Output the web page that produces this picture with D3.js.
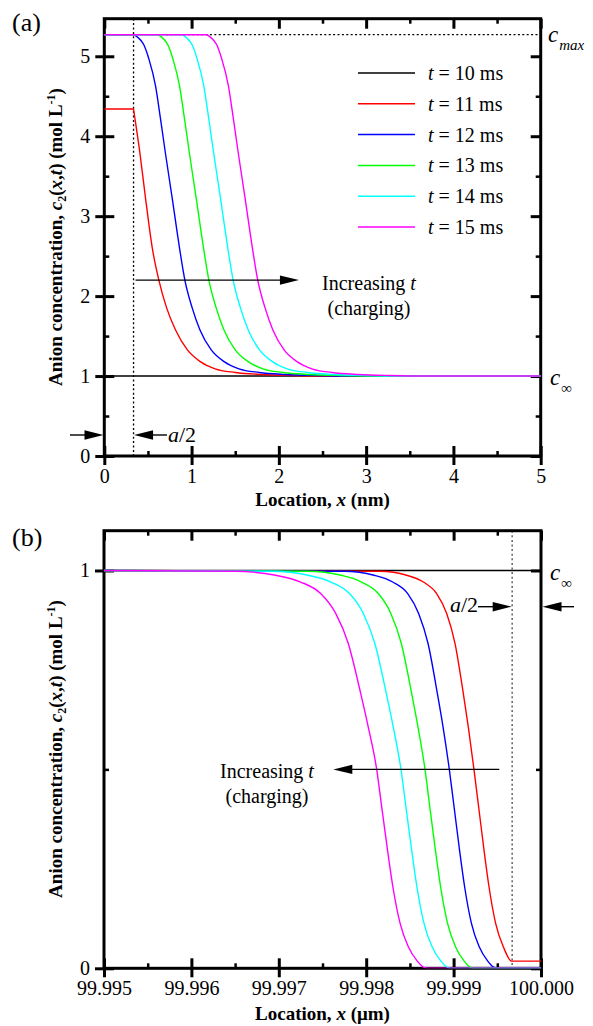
<!DOCTYPE html>
<html>
<head>
<meta charset="utf-8">
<script src="https://cdn.jsdelivr.net/npm/d3@7"></script>
<style>
  body { margin: 0; background: #fff; }
  svg text { font-family: "Liberation Serif", "Tinos", "Times New Roman", serif; fill: #000; }
</style>
</head>
<body>
<svg id="chart" width="593" height="1026"></svg>
<script>
// ---- data ----
const timesMs = [10, 11, 12, 13, 14, 15];
const lineColors = ['#000000', '#ff0000', '#0000ff', '#00ff00', '#00ffff', '#ff00ff'];

const cMax = 5.27;      // mol/L
const cInf = 1;         // mol/L
const aHalfNm = 0.335;  // nm
const aHalfUm = 0.00033;

// panel (a): x in nm
const aT10 = [[0, 1], [5, 1]];
const aT11 = [[0, 4.34], [0.335, 4.34], [0.337, 4.325], [0.408, 3.79], [0.474, 3.21], [0.55, 2.6],
  [0.625, 2.2], [0.715, 1.85], [0.815, 1.58], [0.95, 1.33], [1.10, 1.18], [1.27, 1.09], [1.50, 1.045],
  [1.80, 1.02], [2.15, 1.007], [2.65, 1.0], [5, 1]];
const aT12 = [[0, 5.27], [0.335, 5.27], [0.38, 5.24], [0.45, 5.15], [0.51, 4.97], [0.587, 4.63],
  [0.645, 4.21], [0.70, 3.79], [0.78, 3.21], [0.862, 2.6], [0.923, 2.2], [1.008, 1.85], [1.095, 1.58],
  [1.223, 1.33], [1.373, 1.18], [1.543, 1.09], [1.773, 1.045], [2.073, 1.02], [2.423, 1.007],
  [2.923, 1.0], [5, 1]];
const aT13 = [[0, 5.27], [0.61, 5.27], [0.655, 5.24], [0.725, 5.15], [0.785, 4.97], [0.862, 4.63],
  [0.92, 4.21], [0.975, 3.79], [1.055, 3.21], [1.137, 2.6], [1.198, 2.2], [1.283, 1.85], [1.37, 1.58],
  [1.498, 1.33], [1.648, 1.18], [1.818, 1.09], [2.048, 1.045], [2.348, 1.02], [2.698, 1.007],
  [3.198, 1.0], [5, 1]];
const aT14 = [[0, 5.27], [0.888, 5.27], [0.933, 5.24], [1.003, 5.15], [1.063, 4.97], [1.14, 4.63],
  [1.198, 4.21], [1.253, 3.79], [1.333, 3.21], [1.415, 2.6], [1.476, 2.2], [1.561, 1.85], [1.648, 1.58],
  [1.776, 1.33], [1.926, 1.18], [2.096, 1.09], [2.326, 1.045], [2.626, 1.02], [2.976, 1.007],
  [3.476, 1.0], [5, 1]];
const aT15 = [[0, 5.27], [1.17, 5.27], [1.215, 5.24], [1.285, 5.15], [1.345, 4.97], [1.422, 4.63],
  [1.48, 4.21], [1.535, 3.79], [1.615, 3.21], [1.697, 2.6], [1.758, 2.2], [1.843, 1.85], [1.93, 1.58],
  [2.058, 1.33], [2.208, 1.18], [2.378, 1.09], [2.608, 1.045], [2.908, 1.02], [3.258, 1.007],
  [3.758, 1.0], [5, 1]];

// panel (b): x in µm
const bT10 = [[99.995, 1], [100, 1]];
const bT11 = [[99.995, 1], [99.998158, 0.998], [99.998463, 0.988], [99.998654, 0.971], [99.998806, 0.942],
  [99.998921, 0.892], [99.999016, 0.817], [99.999111, 0.691], [99.999168, 0.607], [99.999233, 0.5],
  [99.999291, 0.398], [99.999348, 0.297], [99.999405, 0.205], [99.999481, 0.113], [99.999569, 0.054],
  [99.999665, 0.018], [100, 0.018]];
const bT12 = [[99.995, 1], [99.997746, 0.998], [99.998089, 0.988], [99.998303, 0.971], [99.998475, 0.942],
  [99.9986, 0.892], [99.998707, 0.817], [99.998814, 0.691], [99.998879, 0.607], [99.998951, 0.5],
  [99.99901, 0.398], [99.999068, 0.297], [99.999126, 0.205], [99.999204, 0.113], [99.999293, 0.054],
  [99.999391, 0.018], [99.999457, 0.003], [99.999503, 0], [100, 0]];
const bT13 = [[99.995, 1], [99.997328, 0.998], [99.99771, 0.988], [99.997948, 0.971], [99.998139, 0.942],
  [99.998282, 0.892], [99.998401, 0.817], [99.99852, 0.691], [99.998592, 0.607], [99.998673, 0.5],
  [99.998732, 0.398], [99.998792, 0.297], [99.998851, 0.205], [99.998931, 0.113], [99.999022, 0.054],
  [99.999121, 0.018], [99.999189, 0.003], [99.999236, 0], [100, 0]];
const bT14 = [[99.995, 1], [99.996915, 0.998], [99.997335, 0.988], [99.997598, 0.971], [99.997809, 0.942],
  [99.997967, 0.892], [99.998098, 0.817], [99.99823, 0.691], [99.998309, 0.607], [99.998398, 0.5],
  [99.998459, 0.398], [99.99852, 0.297], [99.99858, 0.205], [99.998661, 0.113], [99.998754, 0.054],
  [99.998855, 0.018], [99.998924, 0.003], [99.998972, 0], [100, 0]];
const bT15 = [[99.995, 1], [99.996507, 0.998], [99.996964, 0.988], [99.99725, 0.971], [99.997479, 0.942],
  [99.997651, 0.892], [99.997794, 0.817], [99.997937, 0.691], [99.998023, 0.607], [99.99812, 0.5],
  [99.998182, 0.398], [99.998244, 0.297], [99.998305, 0.205], [99.998388, 0.113], [99.998482, 0.054],
  [99.998585, 0.018], [99.998655, 0.003], [99.998705, 0], [100, 0]];

const aSeries = [aT10, aT11, aT12, aT13, aT14, aT15];
const bSeries = [bT10, bT11, bT12, bT13, bT14, bT15];

// ticks
const aXMajor = [0, 1, 2, 3, 4, 5];
const aXMinor = [0.5, 1.5, 2.5, 3.5, 4.5];
const aYMajor = [0, 1, 2, 3, 4, 5];
const aYMinor = [0.5, 1.5, 2.5, 3.5, 4.5];
const bXMajor = [99.995, 99.996, 99.997, 99.998, 99.999, 100.0];
const bXMinor = [99.9955, 99.9965, 99.9975, 99.9985, 99.9995];
const bYMajor = [0, 1];
const bYMinor = [0.5];

const svg = d3.select('#chart');

// ---- helpers ----
function drawAxes(g, x, y, w, h, o) {
  const styleAxis = (sel, width) => {
    sel.attr('font-family', null);
    sel.select('.domain').remove();
    sel.selectAll('.tick line').attr('stroke', '#000').attr('stroke-width', width);
    sel.selectAll('.tick text').attr('font-size', 20);
  };
  // bottom
  g.append('g').attr('transform', `translate(0,${h})`)
    .call(d3.axisBottom(x).tickValues(o.xMajor).tickSize(9).tickPadding(4).tickFormat(o.xFmt))
    .call((s) => styleAxis(s, 3));
  g.append('g').attr('transform', `translate(0,${h})`)
    .call(d3.axisBottom(x).tickValues(o.xMajor).tickSize(-10).tickFormat(''))
    .call((s) => styleAxis(s, 3));
  g.append('g').attr('transform', `translate(0,${h})`)
    .call(d3.axisBottom(x).tickValues(o.xMinor).tickSize(-5).tickFormat(''))
    .call((s) => styleAxis(s, 2.5));
  // top
  g.append('g')
    .call(d3.axisTop(x).tickValues(o.xMajor).tickSize(-10).tickFormat(''))
    .call((s) => styleAxis(s, 3));
  g.append('g')
    .call(d3.axisTop(x).tickValues(o.xMinor).tickSize(-5).tickFormat(''))
    .call((s) => styleAxis(s, 2.5));
  // left
  g.append('g')
    .call(d3.axisLeft(y).tickValues(o.yMajor).tickSize(9).tickPadding(5).tickFormat(o.yFmt))
    .call((s) => styleAxis(s, 3));
  g.append('g')
    .call(d3.axisLeft(y).tickValues(o.yMajor).tickSize(-10).tickFormat(''))
    .call((s) => styleAxis(s, 3));
  g.append('g')
    .call(d3.axisLeft(y).tickValues(o.yMinor).tickSize(-5).tickFormat(''))
    .call((s) => styleAxis(s, 2.5));
  // right
  g.append('g').attr('transform', `translate(${w},0)`)
    .call(d3.axisRight(y).tickValues(o.yMajor).tickSize(-10).tickFormat(''))
    .call((s) => styleAxis(s, 3));
  g.append('g').attr('transform', `translate(${w},0)`)
    .call(d3.axisRight(y).tickValues(o.yMinor).tickSize(-5).tickFormat(''))
    .call((s) => styleAxis(s, 2.5));
  // frame
  g.append('rect').attr('width', w).attr('height', h)
    .attr('fill', 'none').attr('stroke', '#000').attr('stroke-width', 3);
}

function arrow(g, x1, y0, x2) {
  // line from x1 to the tip at x2
  const dir = x2 > x1 ? 1 : -1;
  const head = 19;
  g.append('line').attr('x1', x1).attr('x2', x2 - dir * head + dir * 2)
    .attr('y1', y0).attr('y2', y0).attr('stroke', '#000').attr('stroke-width', 1.4);
  g.append('path')
    .attr('d', `M${x2},${y0} L${x2 - dir * head},${y0 - 4.7} L${x2 - dir * head},${y0 + 4.7} Z`)
    .attr('fill', '#000');
}

function yTitle(g, cx, cy) {
  const t = g.append('text')
    .attr('transform', `translate(${cx},${cy}) rotate(-90)`)
    .attr('text-anchor', 'middle').attr('font-size', 19).attr('font-weight', 'bold');
  t.append('tspan').text('Anion concentration, ');
  t.append('tspan').attr('font-style', 'italic').text('c');
  t.append('tspan').attr('font-size', 12).attr('dy', 4).text('2');
  t.append('tspan').attr('dy', -4).text('(');
  t.append('tspan').attr('font-style', 'italic').text('x');
  t.append('tspan').text(',');
  t.append('tspan').attr('font-style', 'italic').text('t');
  t.append('tspan').text(') (mol L');
  t.append('tspan').attr('font-size', 12).attr('dy', -7).text('-1');
  t.append('tspan').attr('dy', 7).text(')');
}

function xTitle(g, cx, y0, unit) {
  const t = g.append('text').attr('x', cx).attr('y', y0)
    .attr('text-anchor', 'middle').attr('font-size', 19).attr('font-weight', 'bold');
  t.append('tspan').text('Location, ');
  t.append('tspan').attr('font-style', 'italic').text('x');
  t.append('tspan').text(` (${unit})`);
}

function cLabel(g, x0, y0, sub) {
  const t = g.append('text').attr('x', x0).attr('y', y0).attr('font-size', 23).attr('font-style', 'italic');
  t.append('tspan').text('c');
  t.append('tspan').attr('font-size', 15).attr('dy', 8).attr('dx', 1).text(sub);
}

function increasingLabel(g, cx, y0) {
  const t = g.append('text').attr('x', cx).attr('y', y0)
    .attr('text-anchor', 'middle').attr('font-size', 20);
  t.append('tspan').text('Increasing ');
  t.append('tspan').attr('font-style', 'italic').text('t');
  g.append('text').attr('x', cx).attr('y', y0 + 25)
    .attr('text-anchor', 'middle').attr('font-size', 20).text('(charging)');
}

function drawPanel(box, xDomain, yDomain, series, ticks, clipId) {
  const w = box.right - box.left;
  const h = box.bottom - box.top;
  const x = d3.scaleLinear().domain(xDomain).range([0, w]);
  const y = d3.scaleLinear().domain(yDomain).range([h, 0]);
  const g = svg.append('g').attr('transform', `translate(${box.left},${box.top})`);

  g.append('clipPath').attr('id', clipId).append('rect')
    .attr('x', 0).attr('y', -2).attr('width', w).attr('height', h + 2);

  drawAxes(g, x, y, w, h, ticks);

  const line = d3.line().x((d) => x(d[0])).y((d) => y(d[1])).curve(d3.curveMonotoneX);
  g.append('g').attr('clip-path', `url(#${clipId})`)
    .selectAll('path').data(series).join('path')
    .attr('d', line)
    .attr('fill', 'none')
    .attr('stroke', (d, i) => lineColors[i])
    .attr('stroke-width', 1.4);

  return { g, x, y, w, h };
}

// ---- panel (a) ----
const pa = drawPanel({ left: 104.3, right: 540.7, top: 18.7, bottom: 456 }, [0, 5], [0, 5.47], aSeries,
  { xMajor: aXMajor, xMinor: aXMinor, yMajor: aYMajor, yMinor: aYMinor, xFmt: d3.format('d'), yFmt: d3.format('d') },
  'clipA');

pa.g.insert('line', 'g')
  .attr('x1', pa.x(aHalfNm)).attr('x2', pa.x(aHalfNm)).attr('y1', 0).attr('y2', pa.h)
  .attr('stroke', '#000').attr('stroke-width', 1.3).attr('stroke-dasharray', '2,2.4');
pa.g.insert('line', 'g')
  .attr('x1', 0).attr('x2', pa.w).attr('y1', pa.y(cMax)).attr('y2', pa.y(cMax))
  .attr('stroke', '#000').attr('stroke-width', 1.3).attr('stroke-dasharray', '2,2.4');

// legend
const legend = svg.append('g').attr('transform', 'translate(358,73)');
timesMs.forEach((t, i) => {
  const row = legend.append('g').attr('transform', `translate(0,${i * 30.8})`);
  row.append('line').attr('x1', 0).attr('x2', 57).attr('y1', 0).attr('y2', 0)
    .attr('stroke', lineColors[i]).attr('stroke-width', 1.5);
  const tx = row.append('text').attr('x', 70).attr('y', 7).attr('font-size', 20);
  tx.append('tspan').attr('font-style', 'italic').text('t');
  tx.append('tspan').text(` = ${t} ms`);
});

// annotations (a)
arrow(svg, 104.3 + pa.x(aHalfNm) + 2, 18.7 + pa.y(2.2), 104.3 + pa.x(2.23));
increasingLabel(svg, 369, 290);
arrow(svg, 70, 435, 103.5);
arrow(svg, 167, 435, 104.3 + pa.x(aHalfNm) + 0.5);
svg.append('text').attr('x', 168).attr('y', 442).attr('font-size', 22)
  .call((t) => { t.append('tspan').attr('font-style', 'italic').text('a'); t.append('tspan').text('/2'); });
cLabel(svg, 548, 41.5, 'max');
cLabel(svg, 550, 385, '\u221e');
svg.append('text').attr('x', 12).attr('y', 31).attr('font-size', 26).text('(a)');
yTitle(svg, 62, 237);
xTitle(svg, 322.5, 506, 'nm');

// ---- panel (b) ----
const pb = drawPanel({ left: 104, right: 541, top: 530.7, bottom: 968.3 }, [99.995, 100], [0, 1.1], bSeries,
  { xMajor: bXMajor, xMinor: bXMinor, yMajor: bYMajor, yMinor: bYMinor, xFmt: d3.format('.3f'), yFmt: d3.format('d') },
  'clipB');

pb.g.insert('line', 'g')
  .attr('x1', pb.x(100 - aHalfUm)).attr('x2', pb.x(100 - aHalfUm)).attr('y1', 0).attr('y2', pb.h)
  .attr('stroke', '#555').attr('stroke-width', 1.4).attr('stroke-dasharray', '2,2.6');

arrow(svg, 104 + pb.x(99.999523), 530.7 + pb.y(0.5), 104 + pb.x(99.997624));
increasingLabel(svg, 267, 778);
arrow(svg, 478, 606.7, 104 + pb.x(100 - aHalfUm) - 0.5);
arrow(svg, 574, 606.7, 542.5);
svg.append('text').attr('x', 450).attr('y', 612).attr('font-size', 22)
  .call((t) => { t.append('tspan').attr('font-style', 'italic').text('a'); t.append('tspan').text('/2'); });
cLabel(svg, 550, 580, '\u221e');
svg.append('text').attr('x', 12).attr('y', 546).attr('font-size', 26).text('(b)');
yTitle(svg, 62, 749);
xTitle(svg, 322.5, 1020, '\u03bcm');
</script>
</body>
</html>
